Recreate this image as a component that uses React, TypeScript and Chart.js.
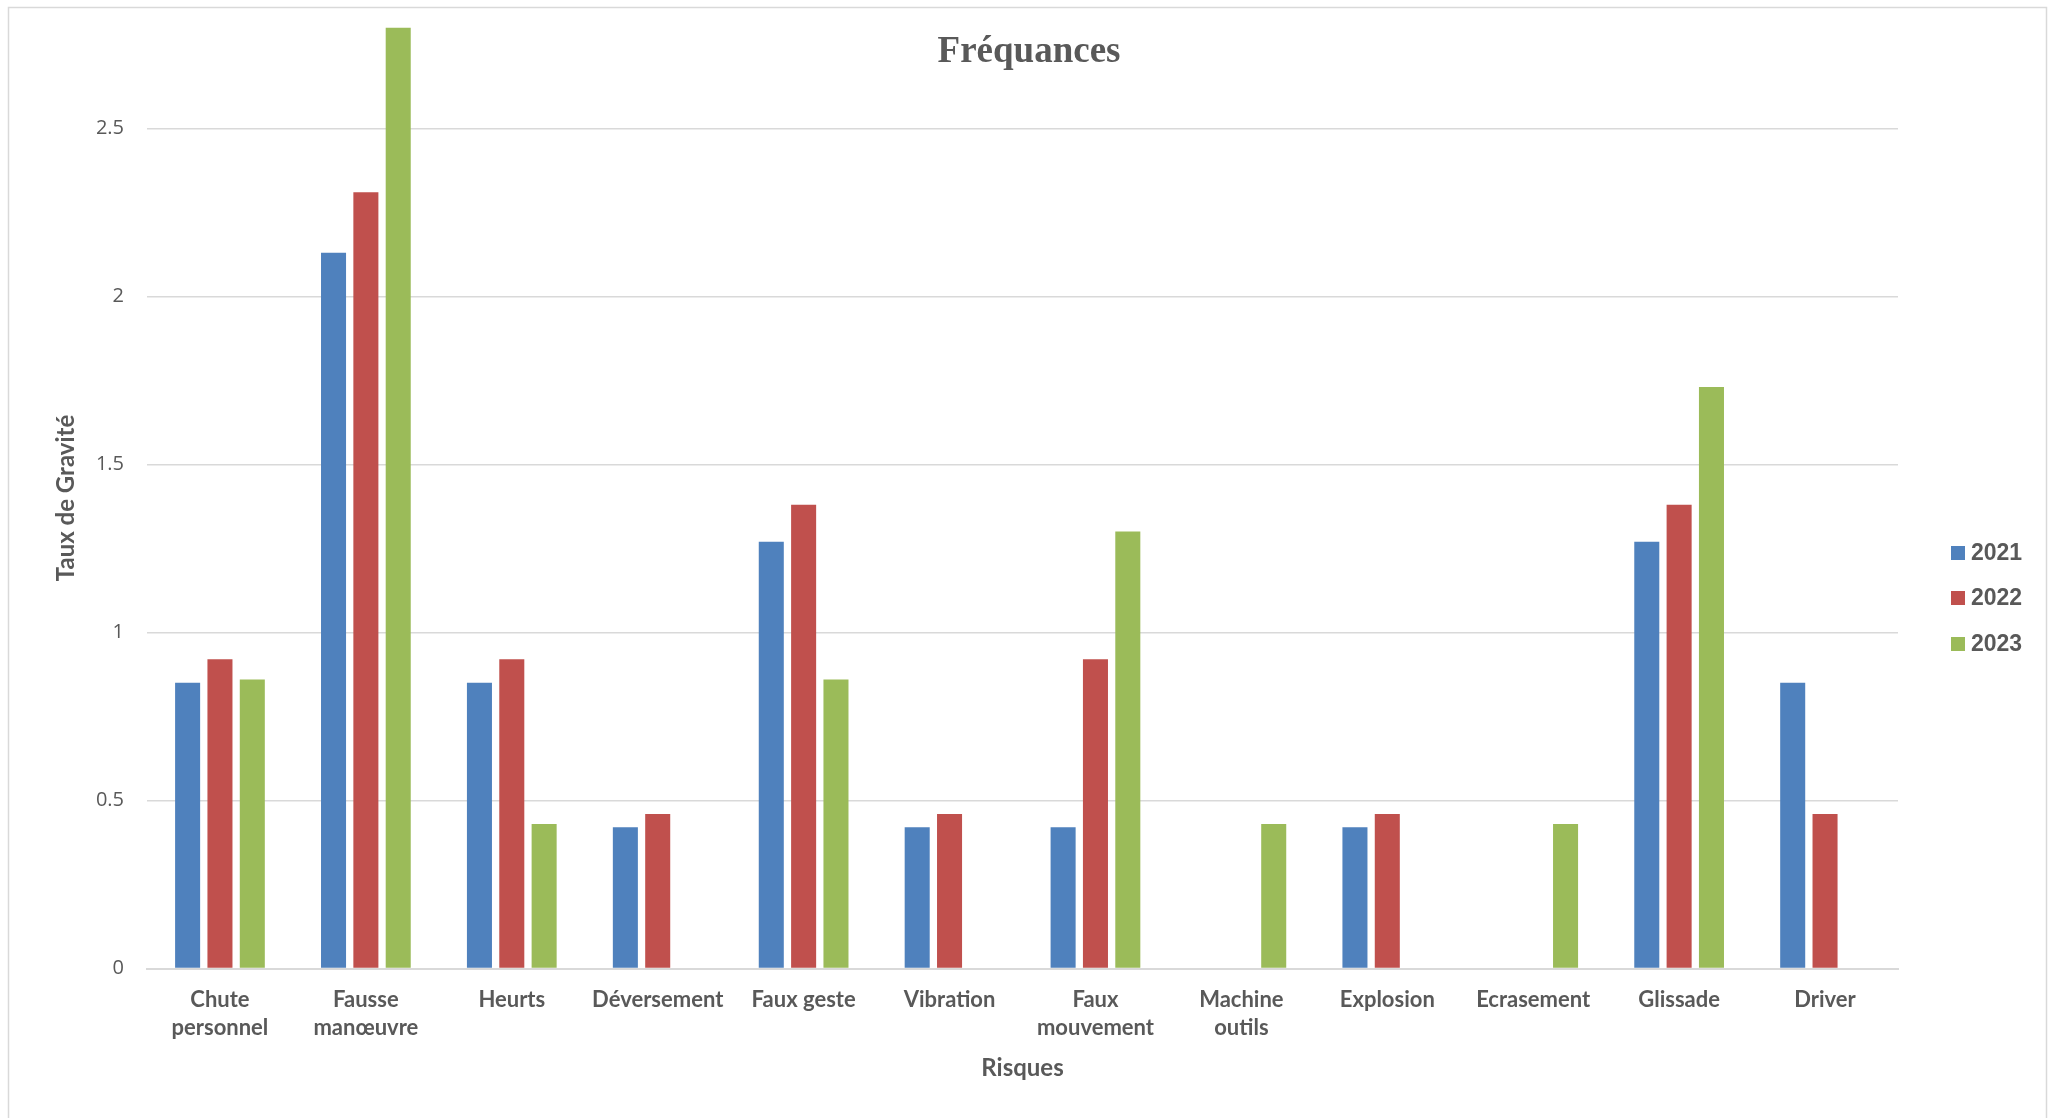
import { useEffect, useRef } from "react";
import { Chart, registerables } from "chart.js";

Chart.register(...registerables);

// Risk categories (multi-line labels are split into arrays)
const categories: (string | string[])[] = [
  ["Chute", "personnel"],
  ["Fausse", "manœuvre"],
  "Heurts",
  "Déversement",
  "Faux geste",
  "Vibration",
  ["Faux", "mouvement"],
  ["Machine", "outils"],
  "Explosion",
  "Ecrasement",
  "Glissade",
  "Driver",
];

// Yearly values per category (null = no occurrence)
const values2021 = [0.85, 2.13, 0.85, 0.42, 1.27, 0.42, 0.42, null, 0.42, null, 1.27, 0.85];
const values2022 = [0.92, 2.31, 0.92, 0.46, 1.38, 0.46, 0.92, null, 0.46, null, 1.38, 0.46];
const values2023 = [0.86, 2.8, 0.43, null, 0.86, null, 1.3, 0.43, null, 0.43, 1.73, null];

const seriesLabels = ["2021", "2022", "2023"];
const seriesColors = ["#4f81bd", "#c0504d", "#9bbb59"];

const yTicks = [0, 0.5, 1, 1.5, 2, 2.5];
const yMax = 2.8;

const chartTitle = "Fréquances";
const yAxisTitle = "Taux de Gravité";
const xAxisTitle = "Risques";

const TEXT = "#595959";
const LINE = "#d9d9d9";

// Outer frame around the whole chart
const framePlugin = {
  id: "frame",
  beforeDraw(chart: Chart) {
    const { ctx } = chart;
    ctx.save();
    ctx.fillStyle = "#ffffff";
    ctx.fillRect(0, 0, chart.width, chart.height);
    ctx.strokeStyle = LINE;
    ctx.lineWidth = 1.5;
    ctx.strokeRect(8.5, 7.5, 2038, chart.height + 20);
    ctx.restore();
  },
};

// Title laid over the top of the plot, plus the legend on the right
const overlayPlugin = {
  id: "overlay",
  afterDraw(chart: Chart) {
    const { ctx } = chart;
    ctx.save();
    ctx.fillStyle = TEXT;
    ctx.font = "bold 37px 'Liberation Serif', 'Times New Roman', serif";
    ctx.textAlign = "center";
    ctx.textBaseline = "alphabetic";
    ctx.fillText(chartTitle, 1029, 62);

    const legendX = 1951;
    const legendY = [553, 598, 644];
    ctx.font = "bold 23px 'Liberation Sans', Arial, sans-serif";
    ctx.textAlign = "left";
    ctx.textBaseline = "middle";
    chart.data.datasets.forEach((ds, i) => {
      const y = legendY[i];
      ctx.fillStyle = ds.backgroundColor as string;
      ctx.fillRect(legendX, y - 7, 14, 14);
      ctx.fillStyle = TEXT;
      ctx.fillText(String(ds.label), legendX + 20, y + 1);
    });
    ctx.restore();
  },
};

export default function App() {
  const canvasRef = useRef<HTMLCanvasElement | null>(null);

  useEffect(() => {
    if (!canvasRef.current) return;
    const seriesValues = [values2021, values2022, values2023];
    const chart = new Chart(canvasRef.current, {
      type: "bar",
      data: {
        labels: categories,
        datasets: seriesLabels.map((label, i) => ({
          label,
          data: seriesValues[i],
          backgroundColor: seriesColors[i],
          borderWidth: 0,
          categoryPercentage: 0.665,
          barPercentage: 0.774,
        })),
      },
      options: {
        responsive: false,
        animation: false,
        devicePixelRatio: 1,
        layout: { padding: { left: 0, right: 157, top: 27.5, bottom: 0 } },
        plugins: {
          legend: { display: false },
          title: { display: false },
          tooltip: { enabled: false },
        },
        scales: {
          x: {
            afterFit: (s: any) => {
              s.height = 149.5;
              s.paddingLeft = 0;
              s.paddingRight = 0;
            },
            grid: { display: false, drawTicks: false },
            border: { display: true, color: LINE, width: 2 },
            ticks: {
              padding: 17,
              color: TEXT,
              autoSkip: false,
              maxRotation: 0,
              font: { family: "Lato", size: 22, weight: "bold", lineHeight: 1.27 },
            },
            title: {
              display: true,
              text: xAxisTitle,
              color: TEXT,
              font: { family: "Lato", size: 24, weight: "bold" },
              padding: { top: 0, bottom: 35.6 },
            },
          },
          y: {
            min: 0,
            max: yMax,
            afterBuildTicks: (s: any) => {
              s.ticks = yTicks.map((v) => ({ value: v }));
            },
            afterFit: (s: any) => {
              s.width = 147;
              s.paddingTop = 0;
              s.paddingBottom = 0;
            },
            grid: { color: LINE, lineWidth: 1.5, drawTicks: false },
            border: { display: false },
            ticks: {
              padding: 23,
              color: TEXT,
              font: { family: "Open Sans", size: 20 },
              callback: (v: any) => String(v),
            },
            title: {
              display: true,
              text: yAxisTitle,
              color: TEXT,
              font: { family: "Lato", size: 24, weight: "bold" },
              padding: { top: 52, bottom: 0 },
            },
          },
        },
      },
      plugins: [framePlugin, overlayPlugin],
    });
    document.fonts?.ready.then(() => chart.update());
    return () => chart.destroy();
  }, []);

  return (
    <div style={{ position: "fixed", left: 0, top: 0, width: 2055, height: 1118, background: "#fff" }}>
      <canvas ref={canvasRef} width={2055} height={1118} style={{ width: 2055, height: 1118, display: "block" }} />
    </div>
  );
}
